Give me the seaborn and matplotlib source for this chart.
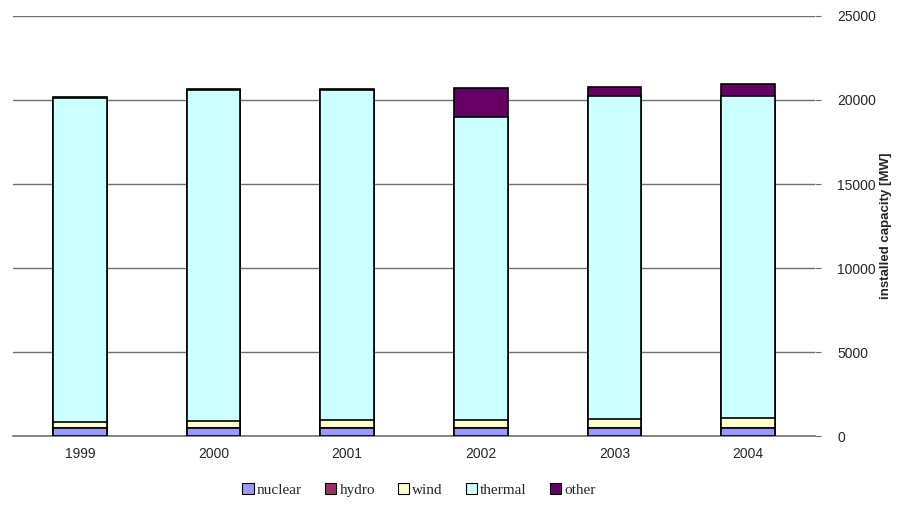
import numpy as np
import pandas as pd
import matplotlib
matplotlib.use("Agg")
import matplotlib.pyplot as plt
import seaborn as sns
from matplotlib.patches import Patch

# Installed capacity by source [MW]
years = ["1999", "2000", "2001", "2002", "2003", "2004"]
nuclear = [470, 470, 470, 470, 470, 470]
hydro = [5, 5, 5, 5, 5, 5]
wind = [350, 440, 450, 480, 560, 570]
thermal = [19270, 19690, 19680, 18020, 19190, 19220]
other = [110, 60, 60, 1750, 560, 700]

sources = ["nuclear", "hydro", "wind", "thermal", "other"]
colors = {"nuclear": "#9999FF", "hydro": "#993366", "wind": "#FFFFCC",
          "thermal": "#CCFFFF", "other": "#660066"}

df = pd.DataFrame({"year": years, "nuclear": nuclear, "hydro": hydro,
                   "wind": wind, "thermal": thermal, "other": other})
cum = df[sources].cumsum(axis=1)
cum["year"] = df["year"]

sns.set_style("white")
fig = plt.figure(figsize=(8.97, 5.08), dpi=100)
ax = fig.add_axes([13 / 897, 1 - 436 / 508, (815 - 13) / 897, (436 - 16) / 508])

# Stacked bars: draw cumulative totals from the top segment down
for src in reversed(sources):
    sns.barplot(data=cum, x="year", y=src, color=colors[src], width=0.40,
                edgecolor="black", linewidth=1.2, saturation=1, ax=ax, zorder=3)

ax.set_ylim(0, 25000)
ax.set_xlim(-0.5, 5.5)
ax.set_yticks(np.arange(0, 25001, 5000))
ax.yaxis.tick_right()
ax.set_ylabel("")
ax.set_xlabel("")
ax.grid(axis="y", color="#707070", linewidth=1, zorder=0)
ax.set_axisbelow(True)

fig.text(886 / 897, 1 - 226 / 508, "installed capacity [MW]", rotation=90,
         ha="center", va="center", fontsize=9.5, fontweight="bold",
         family="Liberation Sans")

for side in ["left", "top", "right"]:
    ax.spines[side].set_visible(False)
ax.spines["bottom"].set_color("#707070")
ax.spines["bottom"].set_linewidth(1.2)

ax.set_xticks(np.arange(6))
ax.set_xticklabels(years)
ax.tick_params(axis="x", length=0, pad=8, labelsize=10)
ax.set_xticks(np.arange(-0.5, 6.0, 1.0), minor=True)
ax.tick_params(axis="x", which="minor", length=5, color="#555555", width=1)
ax.tick_params(axis="y", length=4, color="#707070", labelsize=10, pad=12, right=True)
for lab in ax.get_xticklabels() + ax.get_yticklabels():
    lab.set_family("Liberation Sans")

handles = [Patch(facecolor=colors[s], edgecolor="black", linewidth=0.8, label=s)
           for s in sources]
fig.legend(handles=handles, loc="center", bbox_to_anchor=(419 / 897, 1 - 490 / 508),
           ncol=5, frameon=False, prop={"family": "Liberation Serif", "size": 11},
           handlelength=0.75, handleheight=0.75, handletextpad=0.2, columnspacing=1.5)

fig.savefig("out.png", dpi=100, facecolor="white")
